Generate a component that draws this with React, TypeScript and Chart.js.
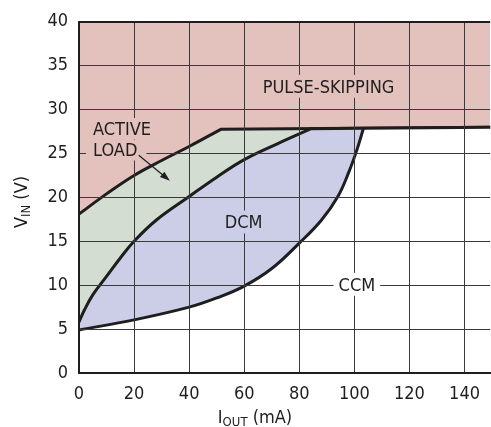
import React, { useEffect, useRef } from "react";
import { Chart, registerables } from "chart.js";

Chart.register(...registerables);

// ---- data ----
const xTickValues = [0, 20, 40, 60, 80, 100, 120, 140];
const yTickValues = [0, 5, 10, 15, 20, 25, 30, 35, 40];

// boundary of the pulse-skipping region (corner point repeated = sharp corner)
const pulseBoundaryX = [0, 10, 20, 30, 40, 51.5, 51.5, 150];
const pulseBoundaryY = [18.1, 20.4, 22.5, 24.2, 25.8, 27.75, 27.75, 28.0];

// upper edge of DCM region (boundary with active load), then flat top
const dcmUpperX = [0, 2, 5, 10, 15, 20, 28, 40, 50, 60, 72, 84.3, 84.3, 103.3];
const dcmUpperY = [5.8, 7.2, 8.9, 11.0, 13.1, 15.0, 17.4, 20.1, 22.3, 24.3, 26.1, 27.83, 27.83, 27.88];

// lower edge of DCM region (boundary with CCM), then top of CCM
const dcmLowerX = [0, 20, 40, 50, 60, 70, 80, 88, 94, 98, 101, 103.3, 103.3, 150];
const dcmLowerY = [4.9, 6.05, 7.5, 8.55, 9.9, 11.9, 14.8, 17.4, 20.1, 22.9, 25.5, 27.88, 27.88, 28.0];

const regionLabels = ["PULSE-SKIPPING", "DCM", "CCM"];
const regionLabelX = [90.6, 59.8, 100.9];
const regionLabelY = [32.65, 17.2, 10.1];

const activeLoadLines = ["ACTIVE", "LOAD"];
const activeLoadX = 5.1;
const activeLoadY = [27.84, 25.4];
const arrowFrom = [21.7, 24.8];
const arrowTo = [33.0, 21.9];

// ---- styles ----
const PINK = "#E3C1BC";
const GREEN = "#D3DDD1";
const BLUE = "#CCCEE8";
const WHITE = "#FFFFFF";
const INK = "#1e1e1e";
const GRID = "#3a3a3a";
const FONT_FAMILY = "'Liberation Sans Narrow', 'Arial Narrow', 'DejaVu Sans Condensed', sans-serif";
const FONT_SIZE = 18;

const pts = (xs: number[], ys: number[]) => xs.map((x, i) => ({ x, y: ys[i] }));

const annotationPlugin = {
  id: "annotations",
  afterDraw(chart: any) {
    const { ctx, scales } = chart;
    const xs = scales.x;
    const ys = scales.y;
    const font = `${FONT_SIZE}px ${FONT_FAMILY}`;
    const cap = FONT_SIZE * 0.72;
    ctx.save();
    ctx.font = font;
    ctx.textBaseline = "alphabetic";
    const bgs = [PINK, BLUE, WHITE];
    regionLabels.forEach((t, i) => {
      const px = xs.getPixelForValue(regionLabelX[i]);
      const py = ys.getPixelForValue(regionLabelY[i]);
      const w = ctx.measureText(t).width;
      ctx.fillStyle = bgs[i];
      ctx.fillRect(px - w / 2 - 5, py - cap / 2 - 5, w + 10, cap + 10);
      ctx.fillStyle = INK;
      ctx.textAlign = "center";
      ctx.fillText(t, px, py + cap / 2);
    });
    activeLoadLines.forEach((t, i) => {
      const px = xs.getPixelForValue(activeLoadX);
      const py = ys.getPixelForValue(activeLoadY[i]);
      const w = ctx.measureText(t).width;
      ctx.fillStyle = PINK;
      ctx.fillRect(px - 7, py - cap / 2 - 4, w + 16, cap + 8);
      ctx.fillStyle = INK;
      ctx.textAlign = "left";
      ctx.fillText(t, px, py + cap / 2);
    });
    // arrow
    const ax0 = xs.getPixelForValue(arrowFrom[0]);
    const ay0 = ys.getPixelForValue(arrowFrom[1]);
    const ax1 = xs.getPixelForValue(arrowTo[0]);
    const ay1 = ys.getPixelForValue(arrowTo[1]);
    const ang = Math.atan2(ay1 - ay0, ax1 - ax0);
    ctx.strokeStyle = INK;
    ctx.lineWidth = 1.2;
    ctx.beginPath();
    ctx.moveTo(ax0, ay0);
    ctx.lineTo(ax1 - 6 * Math.cos(ang), ay1 - 6 * Math.sin(ang));
    ctx.stroke();
    ctx.fillStyle = INK;
    ctx.beginPath();
    ctx.moveTo(ax1, ay1);
    ctx.lineTo(ax1 - 10 * Math.cos(ang) + 3.5 * Math.sin(ang), ay1 - 10 * Math.sin(ang) - 3.5 * Math.cos(ang));
    ctx.lineTo(ax1 - 10 * Math.cos(ang) - 3.5 * Math.sin(ang), ay1 - 10 * Math.sin(ang) + 3.5 * Math.cos(ang));
    ctx.closePath();
    ctx.fill();

    // axis titles with subscripts
    const sub = `13px ${FONT_FAMILY}`;
    ctx.textAlign = "left";
    const xParts: [string, string, number][] = [["I", font, 0], ["OUT", sub, 3], [" (mA)", font, 0]];
    let total = 0;
    xParts.forEach(([t, f]) => { ctx.font = f; total += ctx.measureText(t).width; });
    let cx = 255 - total / 2;
    const baseX = 423;
    xParts.forEach(([t, f, dy]) => {
      ctx.font = f;
      ctx.fillText(t, cx, baseX + dy);
      cx += ctx.measureText(t).width;
    });
    const yParts: [string, string, number][] = [["V", font, 0], ["IN", sub, 3], [" (V)", font, 0]];
    total = 0;
    yParts.forEach(([t, f]) => { ctx.font = f; total += ctx.measureText(t).width; });
    ctx.save();
    ctx.translate(27, 202);
    ctx.rotate(-Math.PI / 2);
    let lx = -total / 2;
    yParts.forEach(([t, f, dy]) => {
      ctx.font = f;
      ctx.fillText(t, lx, dy);
      lx += ctx.measureText(t).width;
    });
    ctx.restore();
    ctx.restore();
  },
};

export default function App() {
  const ref = useRef<HTMLCanvasElement | null>(null);
  useEffect(() => {
    document.body.style.margin = "0";
    const canvas = ref.current;
    if (!canvas) return;
    const lineCommon = {
      pointRadius: 0,
      borderColor: INK,
      borderWidth: 3,
      tension: 0.4,
      borderJoinStyle: "round" as const,
    };
    const chart = new Chart(canvas, {
      type: "line",
      data: {
        datasets: [
          { ...lineCommon, data: pts(dcmLowerX, dcmLowerY), fill: "start", backgroundColor: WHITE },
          { ...lineCommon, data: pts(dcmUpperX, dcmUpperY), fill: "start", backgroundColor: BLUE },
          { ...lineCommon, data: pts(pulseBoundaryX, pulseBoundaryY), fill: "start", backgroundColor: GREEN },
          { ...lineCommon, borderWidth: 0, data: pts(pulseBoundaryX, pulseBoundaryY), fill: "end", backgroundColor: PINK },
        ],
      },
      options: {
        animation: false,
        responsive: false,
        devicePixelRatio: 1,
        layout: { padding: { top: 21, right: 0, left: 0, bottom: 0 } },
        plugins: { legend: { display: false }, tooltip: { enabled: false } },
        scales: {
          x: {
            type: "linear",
            min: 0,
            max: 149.3,
            afterFit: (s: any) => { s.height = 54; },
            afterBuildTicks: (s: any) => { s.ticks = xTickValues.map((v) => ({ value: v })); },
            ticks: { stepSize: 20, includeBounds: false, padding: 11, maxRotation: 0, color: INK, font: { family: FONT_FAMILY, size: FONT_SIZE } },
            grid: { color: GRID, lineWidth: 1, drawTicks: false, z: 1 },
            border: { color: INK, width: 2, z: 2 },
          },
          y: {
            type: "linear",
            min: 0,
            max: 40,
            afterFit: (s: any) => { s.width = 79; },
            afterBuildTicks: (s: any) => { s.ticks = yTickValues.map((v) => ({ value: v })); },
            ticks: { stepSize: 5, padding: 11, color: INK, font: { family: FONT_FAMILY, size: FONT_SIZE } },
            grid: {
              color: (c: any) => (c.tick && c.tick.value === 40 ? INK : GRID),
              lineWidth: (c: any) => (c.tick && c.tick.value === 40 ? 2 : 1),
              drawTicks: false,
              z: 1,
            },
            border: { color: INK, width: 2, z: 2 },
          },
        },
      },
      plugins: [annotationPlugin],
    });
    return () => chart.destroy();
  }, []);
  return (
    <div style={{ width: 491, height: 427 }}>
      <canvas ref={ref} width={491} height={427} />
    </div>
  );
}
